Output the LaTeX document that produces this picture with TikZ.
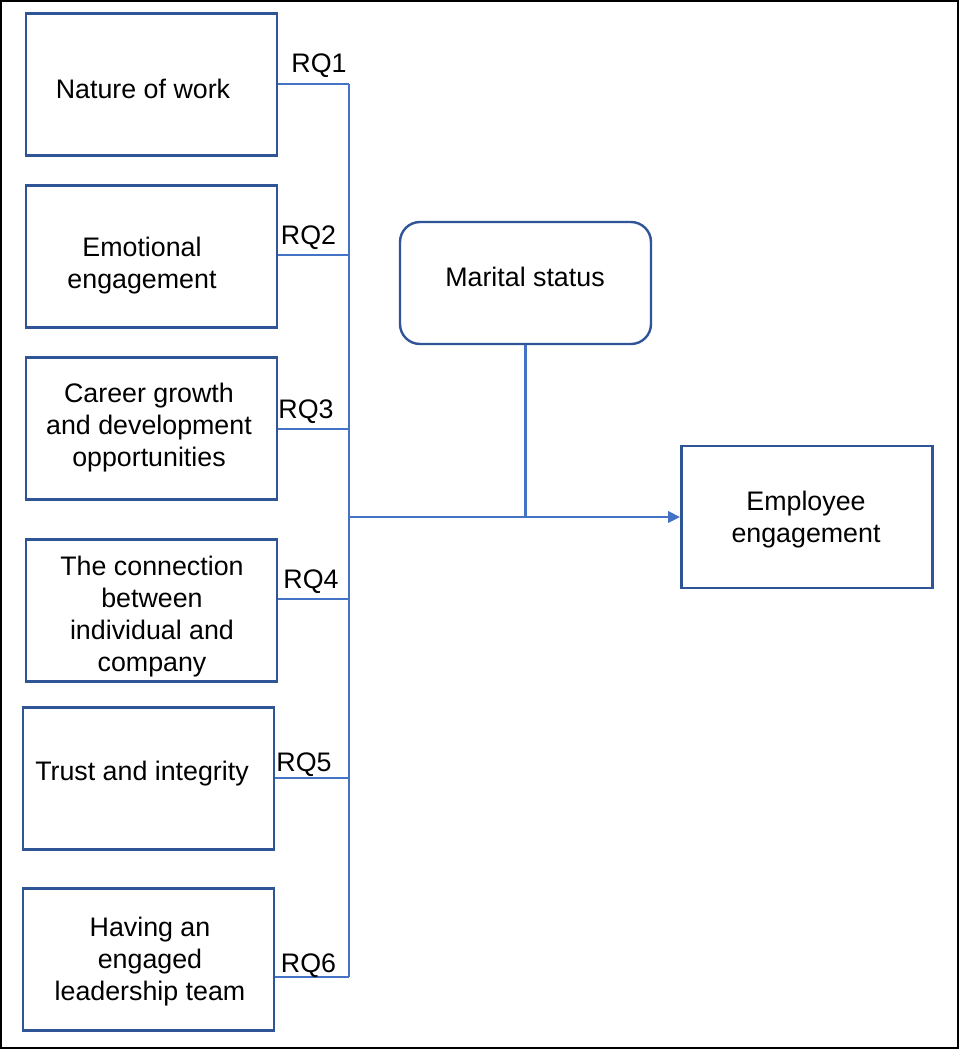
\documentclass[tikz,border=0pt]{standalone}
\usepackage{fontspec}
\setmainfont{Liberation Sans}
\usetikzlibrary{arrows.meta}
\definecolor{boxblue}{HTML}{2F5597}
\definecolor{linkblue}{HTML}{4472C4}
\tikzset{
  box/.style={draw=boxblue, line width=2.6pt, minimum width=251pt, minimum height=142pt, inner sep=0pt},
  rbox/.style={draw=boxblue, line width=2.4pt, rounded corners=20pt, minimum width=251pt, minimum height=122pt, inner sep=0pt},
  txt/.style={align=center, inner sep=0pt, font=\fontsize{26.8}{32}\selectfont},
  rq/.style={inner sep=0pt, font=\fontsize{26.8}{32}\selectfont},
  link/.style={draw=linkblue, line width=2.8pt},
}
\begin{document}
\begin{tikzpicture}[x=1pt,y=-1pt]
\useasboundingbox (0,0) rectangle (960,1050);
\draw[black, line width=2pt] (1,1) rectangle (958,1048);

% left boxes
\node[box] (b1) at (151.5,84.5) {};
\node[box] (b2) at (151.5,256.5) {};
\node[box] (b3) at (151.5,428.5) {};
\node[box] (b4) at (151.5,610.5) {};
\node[box] (b5) at (148.5,778.5) {};
\node[box] (b6) at (148.5,959.5) {};

\node[txt] (t1) at (143,89) {Nature of work};
\node[txt] (t2) at (142,266) {Emotional\\engagement};
\node[txt] (t3) at (149,428) {Career growth\\and development\\opportunities};
\node[txt] (t4) at (152,617) {The connection\\between\\individual and\\company};
\node[txt] (t5) at (142,774) {Trust and integrity};
\node[txt] (t6) at (150,962) {Having an\\engaged\\leadership team};

% right side
\node[rbox] (ms) at (525.5,283) {};
\node[txt] (mst) at (525,277) {Marital status};
\node[box] (ee) at (807,517) {};
\node[txt] (eet) at (806,520) {Employee\\engagement};

% junctions
\coordinate (j1) at (349,84);
\coordinate (j2) at (349,255);
\coordinate (j3) at (349,429);
\coordinate (j4) at (349,599);
\coordinate (j5) at (349,778);
\coordinate (j6) at (349,977);
\coordinate (jm) at (349,517);

\draw[link] (b1.east |- j1) -- (j1);
\draw[link] (b2.east |- j2) -- (j2);
\draw[link] (b3.east |- j3) -- (j3);
\draw[link] (b4.east |- j4) -- (j4);
\draw[link] (b5.east |- j5) -- (j5);
\draw[link] (b6.east |- j6) -- (j6);
\draw[link] (j1) -- (j6);
\draw[link] (ms.south) -- (ms.south |- jm);
\draw[link, -{Triangle[length=12pt,width=11pt]}] (jm) -- (ee.west);

% labels
\node[rq] (rq1) at (319,66) {RQ1};
\node[rq] (rq2) at (308.5,238) {RQ2};
\node[rq] (rq3) at (306,412) {RQ3};
\node[rq] (rq4) at (311,582) {RQ4};
\node[rq] (rq5) at (304,765) {RQ5};
\node[rq] (rq6) at (308.5,966) {RQ6};
\end{tikzpicture}
\end{document}
